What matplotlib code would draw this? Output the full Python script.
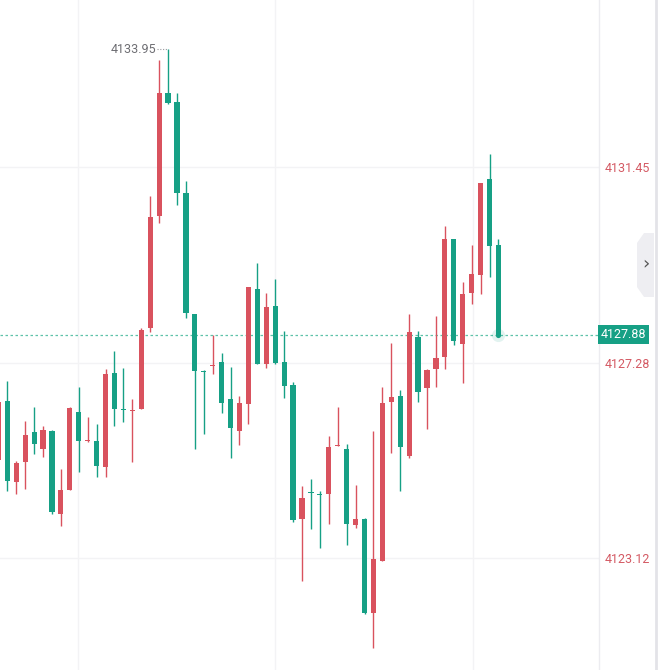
import numpy as np
import matplotlib
matplotlib.use("Agg")
import matplotlib.pyplot as plt
from matplotlib.patches import Polygon
from matplotlib.transforms import blended_transform_factory

# ---- data (OHLC, one candle per period; first one is partially cut at left edge) ----
opens = [4125.22, 4126.47, 4124.75, 4125.17, 4125.81, 4125.45, 4125.83, 4124.06, 4124.57, 4126.23,
         4125.61, 4125.62, 4125.05, 4127.06, 4126.28, 4126.25, 4126.30, 4128.02, 4130.41, 4133.02,
         4132.83, 4130.89, 4128.32, 4127.10, 4127.21, 4127.29, 4126.51, 4125.83, 4126.41, 4128.85,
         4127.26, 4128.49, 4127.29, 4126.81, 4123.96, 4124.52, 4124.48, 4124.49, 4125.50, 4125.44,
         4123.83, 4123.95, 4121.95, 4123.07, 4126.44, 4126.57, 4125.30, 4127.82, 4126.75, 4127.14,
         4127.40, 4129.91, 4127.68, 4128.76, 4129.15, 4131.19, 4129.78]
highs = [4126.55, 4126.89, 4125.19, 4126.05, 4126.34, 4125.93, 4125.85, 4125.02, 4126.33, 4126.77,
         4126.12, 4125.98, 4127.14, 4127.53, 4127.16, 4126.50, 4128.01, 4130.83, 4133.72, 4133.95,
         4133.02, 4131.14, 4128.32, 4127.12, 4127.87, 4127.48, 4127.19, 4126.58, 4128.89, 4129.41,
         4128.77, 4129.06, 4127.95, 4126.87, 4124.66, 4124.81, 4124.55, 4125.72, 4126.34, 4125.54,
         4124.68, 4123.97, 4125.83, 4126.77, 4127.71, 4126.71, 4128.31, 4127.96, 4127.15, 4128.27,
         4130.20, 4129.91, 4128.99, 4129.78, 4131.11, 4131.72, 4129.91]
lows = [4125.15, 4124.56, 4124.49, 4124.59, 4125.34, 4125.27, 4124.06, 4123.81, 4124.57, 4124.96,
        4125.60, 4124.84, 4124.85, 4125.94, 4126.01, 4125.16, 4126.29, 4127.93, 4130.25, 4132.78,
        4130.64, 4128.24, 4125.44, 4125.77, 4127.03, 4126.22, 4125.26, 4125.53, 4125.98, 4127.26,
        4127.17, 4127.25, 4126.52, 4123.88, 4122.64, 4123.74, 4123.34, 4123.85, 4125.50, 4123.40,
        4123.77, 4121.93, 4121.21, 4123.07, 4125.35, 4124.56, 4125.26, 4126.45, 4125.86, 4126.76,
        4127.15, 4127.66, 4126.84, 4128.54, 4128.74, 4129.11, 4127.88]
closes = [4126.45, 4124.77, 4125.15, 4125.74, 4125.56, 4125.85, 4124.10, 4124.57, 4126.32, 4125.62,
          4125.63, 4125.09, 4127.05, 4126.30, 4126.27, 4126.26, 4127.98, 4130.38, 4133.02, 4132.81,
          4130.89, 4128.34, 4127.10, 4127.08, 4127.22, 4126.43, 4125.88, 4126.42, 4128.89, 4127.26,
          4128.47, 4127.28, 4126.79, 4123.93, 4124.40, 4124.50, 4124.46, 4125.49, 4125.51, 4123.85,
          4123.95, 4121.95, 4123.10, 4126.42, 4126.55, 4125.49, 4127.93, 4126.66, 4127.12, 4127.37,
          4129.91, 4127.75, 4128.74, 4129.16, 4131.11, 4129.77, 4127.88]
axis_ticks = [4123.12, 4127.28, 4131.45]
axis_tick_labels = ["4123.12", "4127.28", "4131.45"]
last_price = 4127.88
high_label = "4133.95"

UP = "#d9525e"
DOWN = "#16a085"
LABEL_RED = "#d45a64"

W, H = 662, 670
fig = plt.figure(figsize=(W / 100, H / 100), dpi=100)
fig.patch.set_facecolor("white")
plot_w = 599 / W
ax = fig.add_axes([0, 0, plot_w, 1])
ax.set_facecolor("white")

o = np.array(opens); h = np.array(highs); l = np.array(lows); c = np.array(closes)
x = np.arange(len(o))
colors = [UP if cc >= oo else DOWN for oo, cc in zip(o, c)]

ax.vlines(x, l, h, colors=colors, linewidth=1.0, zorder=3)
body = np.maximum(np.abs(c - o), 0.03)
ax.bar(x, body, bottom=np.minimum(o, c), width=0.58, color=colors, linewidth=0, zorder=4)

ax.set_xlim(0.18, 67.26)
ax.set_ylim(4120.74, 4135.00)

# grid
ax.set_yticks(axis_ticks)
ax.set_yticklabels(axis_tick_labels)
ax.set_xticks([8.9, 31.0, 53.1])
ax.grid(True, color="#f3f3f5", linewidth=1.0, zorder=0)
ax.tick_params(axis="x", bottom=False, labelbottom=False, length=0)
ax.tick_params(axis="y", left=False, labelleft=False, right=False, labelright=True,
               length=0, pad=4, labelcolor=LABEL_RED, labelsize=9)
for lab in ax.get_yticklabels():
    lab.set_fontfamily("Roboto")
for s in ["top", "left", "bottom"]:
    ax.spines[s].set_visible(False)
ax.spines["right"].set_color("#ececf0")
ax.spines["right"].set_linewidth(1.0)

# current price dashed line + glow dot
ax.axhline(last_price, color="#5fc2a9", linewidth=0.9, linestyle=(0, (2, 2)), zorder=2)
ax.scatter([x[-1]], [last_price], s=90, color=DOWN, alpha=0.12, linewidth=0, zorder=5)
ax.scatter([x[-1]], [last_price], s=14, color=DOWN, linewidth=0, zorder=6)

# price tag on the axis
tr = blended_transform_factory(ax.transAxes, ax.transData)
ax.text(1.0 + 2 / 599, last_price, f"{last_price:.2f}", transform=tr, ha="left", va="center",
        color="white", fontsize=9, fontfamily="Roboto", clip_on=False, zorder=10,
        bbox=dict(boxstyle="square,pad=0.22", facecolor=DOWN, edgecolor="none"))

# high marker
imax = int(np.argmax(h))
ax.text(x[imax] - 1.35, h[imax], high_label, ha="right", va="center", color="#6e6e73",
        fontsize=9, fontfamily="Roboto", zorder=7)
ax.plot([x[imax] - 1.2, x[imax]], [h[imax], h[imax]], color="#9a9aa0", linewidth=0.8,
        linestyle=(0, (1, 1.5)), zorder=7)

# right-side chrome: scroll tab and border
tab = Polygon([(654 / W, 1 - 233 / H), (644 / W, 1 - 233 / H), (637 / W, 1 - 243 / H),
               (637 / W, 1 - 287 / H), (644 / W, 1 - 297 / H), (654 / W, 1 - 297 / H)],
              closed=True, transform=fig.transFigure, facecolor="#eeeef2", edgecolor="none")
fig.patches.append(tab)
fig.text(645.5 / W, 1 - 264 / H, "›", ha="center", va="center", fontsize=13, color="#555555")
fig.add_artist(plt.Line2D([655.5 / W, 655.5 / W], [0, 1], transform=fig.transFigure,
                          color="#e3e3e8", linewidth=2))

fig.savefig("out.png", dpi=100, facecolor="white")
